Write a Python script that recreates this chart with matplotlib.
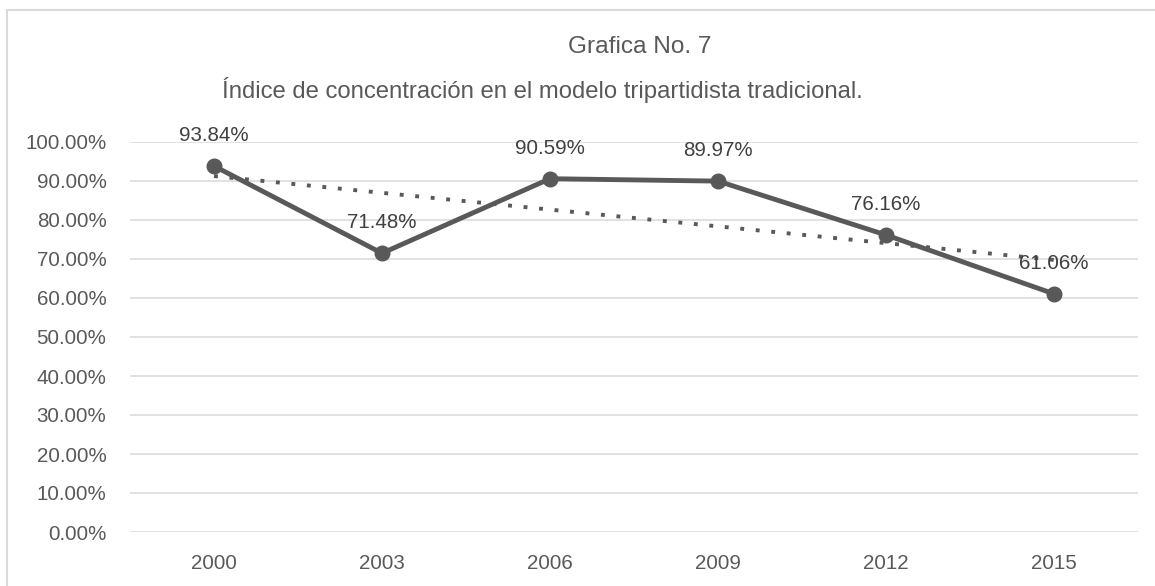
import numpy as np
import matplotlib
matplotlib.use('Agg')
import matplotlib.pyplot as plt
from matplotlib.lines import Line2D
from matplotlib.ticker import PercentFormatter

years = ['2000', '2003', '2006', '2009', '2012', '2015']
indice = [93.84, 71.48, 90.59, 89.97, 76.16, 61.06]
labels = ['93.84%', '71.48%', '90.59%', '89.97%', '76.16%', '61.06%']
y_ticks = [0, 10, 20, 30, 40, 50, 60, 70, 80, 90, 100]

gray = '#595959'
grid_gray = '#d9d9d9'

plt.rcParams['font.family'] = ['Liberation Sans', 'DejaVu Sans']

fig = plt.figure(figsize=(11.55, 5.86), dpi=100)
ax = fig.add_axes([130 / 1155, 54 / 586, 1008 / 1155, 390 / 586])

x = np.arange(len(years))

# linear trendline (like Excel's)
slope, intercept = np.polyfit(x + 1, indice, 1)
trend = slope * (x + 1) + intercept
ax.plot(x, trend, color=gray, linewidth=2.8, linestyle=(0, (1, 3)),
        dash_capstyle='butt', zorder=2)

ax.plot(x, indice, color=gray, linewidth=3.5, marker='o', markersize=10.5,
        zorder=3)

for i, txt in enumerate(labels):
    ax.annotate(txt, (x[i], indice[i]), textcoords='offset points',
                xytext=(0, 22), ha='center', va='center',
                fontsize=14.8, color='#404040', zorder=4)

ax.set_xlim(-0.5, len(years) - 0.5)
ax.set_ylim(0, 100)
ax.set_yticks(y_ticks)
ax.yaxis.set_major_formatter(PercentFormatter(decimals=2))
ax.set_xticks(x)
ax.set_xticklabels(years)
ax.tick_params(axis='both', length=0, labelsize=14.8, labelcolor=gray)
ax.tick_params(axis='y', pad=17)
ax.tick_params(axis='x', pad=16)
ax.grid(axis='y', color=grid_gray, linewidth=1.1)
ax.set_axisbelow(True)
for s in ax.spines.values():
    s.set_visible(False)

# two-line title
fig.text(640 / 1155, 1 - 47 / 586, 'Grafica No. 7', ha='center', va='center',
         fontsize=17.6, color=gray)
fig.text(542 / 1155, 1 - 90 / 586,
         'Índice de concentración en el modelo tripartidista tradicional.',
         ha='center', va='center', fontsize=17.2, color=gray)

# chart border (top and left visible)
fig.add_artist(Line2D([7 / 1155, 7 / 1155, 1.0], [0.0, 1 - 10 / 586, 1 - 10 / 586],
                      transform=fig.transFigure, color=grid_gray, linewidth=1.5))

fig.savefig('out.png', dpi=100)
